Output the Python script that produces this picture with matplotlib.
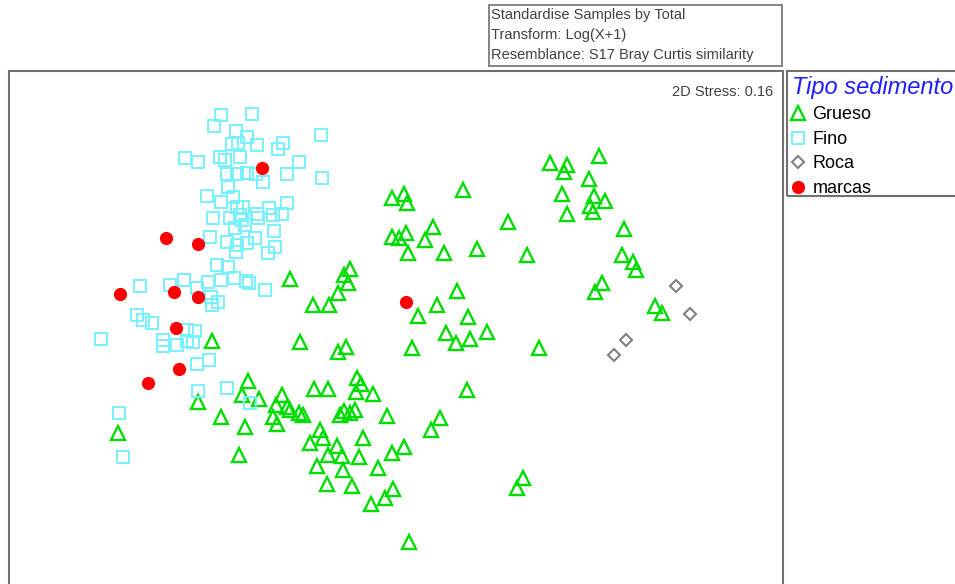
import matplotlib.pyplot as plt
from matplotlib.patches import Rectangle

plt.rcParams['font.family'] = ['Liberation Sans', 'DejaVu Sans']

# coordenadas MDS (eje y hacia abajo)
grueso_x = [290, 350, 344, 348, 338, 329, 313, 300, 346, 338,
            392, 404, 407, 463, 508, 392, 399, 406, 433, 425, 408, 444, 477, 527,
            457, 437, 418, 468, 487, 446, 456, 470, 412, 539,
            550, 567, 564, 599, 589, 562, 594, 605, 590, 593, 567, 624, 622, 633,
            636, 602, 595, 655, 662,
            212, 118, 198, 221, 245, 239,
            248, 242, 259, 282, 276, 287, 290, 299, 303, 273, 277, 314, 328, 357,
            361, 356, 373, 344, 350, 355, 340, 387, 320, 323, 310, 337, 328, 342,
            363, 359, 317, 343, 378, 392, 404, 327, 352, 393, 385, 371, 440, 431,
            467, 523, 517, 409]
grueso_y = [279, 269, 275, 283, 293, 305, 305, 342, 347, 352,
            198, 194, 203, 190, 222, 237, 238, 233, 227, 240, 253, 253, 249, 255,
            291, 305, 316, 317, 332, 333, 343, 339, 348, 348,
            163, 165, 172, 156, 179, 194, 196, 201, 206, 212, 214, 229, 255, 262,
            270, 283, 292, 306, 313,
            341, 433, 402, 417, 427, 455,
            381, 395, 399, 395, 405, 407, 410, 413, 415, 417, 424, 389, 389, 378,
            384, 392, 394, 411, 413, 410, 415, 416, 430, 438, 443, 446, 455, 456,
            438, 457, 466, 470, 468, 453, 447, 484, 486, 489, 498, 504, 418, 430,
            390, 478, 488, 542]

fino_x = [221, 252, 214, 236, 247, 321, 232, 238, 257, 283, 278, 185, 198, 220,
          225, 240, 299, 322, 228, 227, 237, 247, 256, 263, 287, 207, 233, 221,
          243, 237, 269, 287, 282, 257, 213, 230, 242, 258, 273, 240, 235, 245,
          274, 210, 227, 237, 255, 275, 247, 236, 268, 217, 228,
          140, 170, 184, 197, 208, 221, 234, 246, 249, 265, 211, 212, 218, 137,
          143, 152, 101, 163, 163, 177, 187, 195, 187, 193, 197, 209, 198, 227,
          250, 119, 123]
fino_y = [115, 114, 126, 131, 137, 135, 144, 143, 145, 143, 149, 158, 162, 157,
          160, 157, 162, 178, 187, 174, 174, 173, 174, 182, 174, 196, 197, 202,
          207, 207, 208, 203, 214, 214, 218, 218, 220, 218, 215, 215, 228, 225,
          231, 237, 242, 245, 238, 247, 243, 252, 253, 265, 267,
          286, 285, 280, 288, 282, 280, 278, 281, 283, 290, 297, 305, 302, 315,
          320, 323, 339, 340, 346, 345, 330, 331, 341, 342, 364, 360, 391, 388,
          403, 413, 457]

roca_x = [676, 690, 626, 614]
roca_y = [286, 314, 340, 355]

marcas_x = [262, 166, 198, 120, 174, 198, 176, 179, 148, 406]
marcas_y = [168, 238, 244, 294, 292, 297, 328, 369, 383, 302]

fig = plt.figure(figsize=(9.55, 5.84), dpi=100)
ax = fig.add_axes([9 / 955, 0, 774 / 955, 513 / 584])

ax.plot(grueso_x, grueso_y, '^', ms=10, mfc='none', mec='#00dd00', mew=1.7,
        ls='none', label='Grueso')
ax.plot(fino_x, fino_y, 's', ms=8, mfc='none', mec='#78f0ff', mew=1.4,
        ls='none', label='Fino')
ax.plot(roca_x, roca_y, 'D', ms=6, mfc='none', mec='#808080', mew=1.5,
        ls='none', label='Roca')
ax.plot(marcas_x, marcas_y, 'o', ms=8.5, mfc='#ff0000', mec='#ff0000',
        ls='none', label='marcas')

ax.set_xlim(9, 783)
ax.set_ylim(584, 71)
ax.set_xticks([])
ax.set_yticks([])
for s in ['top', 'left', 'right']:
    ax.spines[s].set_color('#707070')
    ax.spines[s].set_linewidth(1.5)
ax.spines['bottom'].set_visible(False)

ax.text(0.987, 0.973, '2D Stress: 0.16', transform=ax.transAxes, ha='right',
        va='top', fontsize=10.5, color='#404040')

# leyenda (el marco sale por la derecha de la figura)
leg = fig.legend(*ax.get_legend_handles_labels(), loc='upper left',
                 bbox_to_anchor=(789 / 955, 1 - 73 / 584), borderaxespad=0,
                 frameon=False, title='Tipo sedimento', alignment='left',
                 fontsize=13, handlelength=0.7, handletextpad=0.45,
                 labelspacing=0.42, borderpad=0.15)
leg.get_title().set_color('#2020ff')
leg.get_title().set_fontstyle('italic')
leg.get_title().set_fontsize(17)
fig.patches.append(Rectangle((787 / 955, 1 - 196 / 584), 200 / 955, 125 / 584,
                             transform=fig.transFigure, fill=False,
                             edgecolor='#707070', linewidth=1.5))

# caja de informacion de arriba
fig.patches.append(Rectangle((489 / 955, 1 - 66 / 584), 293 / 955, 61 / 584,
                             transform=fig.transFigure, fill=False,
                             edgecolor='#707070', linewidth=1.2))
info = ['Standardise Samples by Total', 'Transform: Log(X+1)',
        'Resemblance: S17 Bray Curtis similarity']
for i, t in enumerate(info):
    fig.text(491 / 955, 1 - (15.5 + i * 19.5) / 584, t, fontsize=10.5,
             color='#404040', va='center', ha='left')

fig.savefig('out.png', dpi=100)
